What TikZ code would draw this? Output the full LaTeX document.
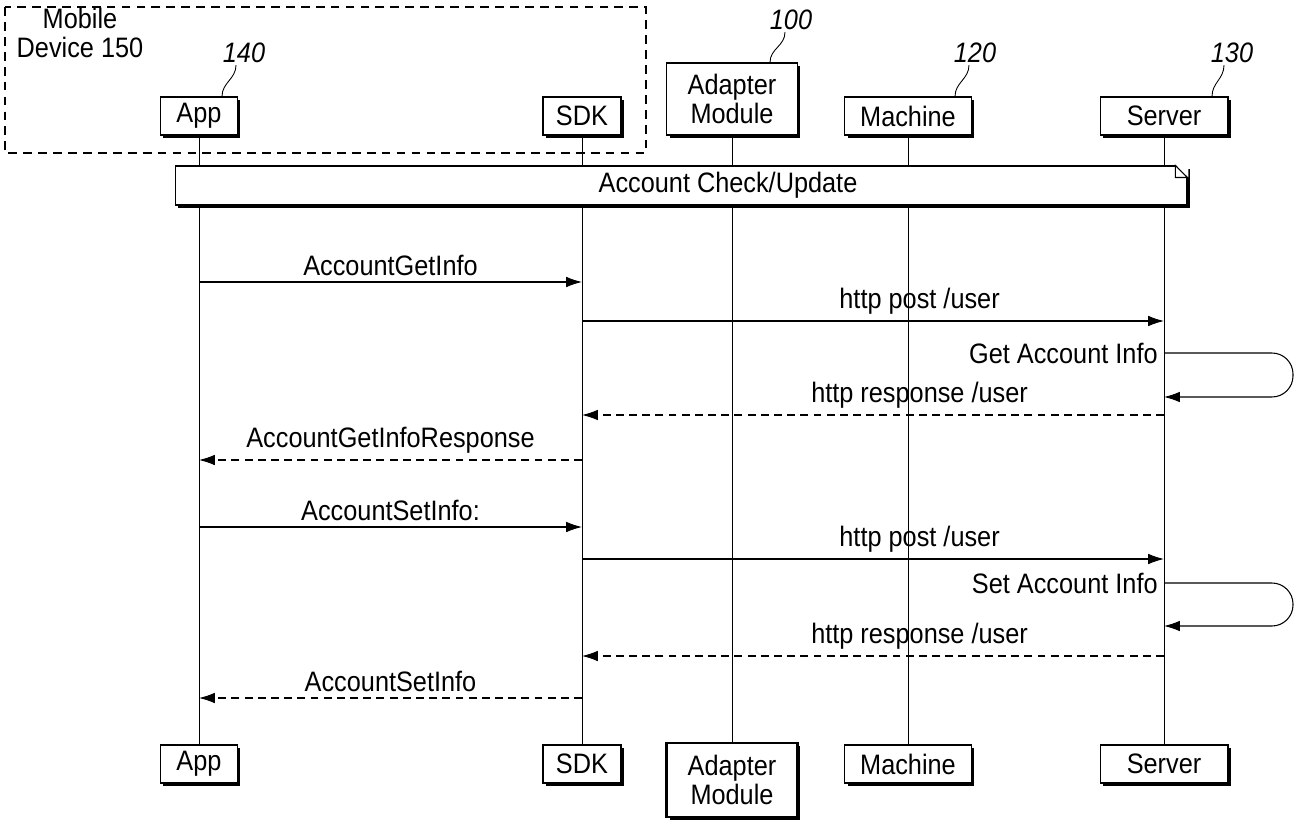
\documentclass[tikz,border=0pt]{standalone}
\usepackage{fontspec}
\setmainfont{Liberation Sans}[FakeStretch=0.9]
\usetikzlibrary{arrows.meta,shadows}

\begin{document}
\begin{tikzpicture}[x=0.02cm,y=-0.02cm,
        font=\fontsize{16}{17}\selectfont,
        box/.style={draw,fill=white,line width=0.6pt,inner sep=2pt,minimum height=0.76cm,
            drop shadow={shadow xshift=1.7pt,shadow yshift=-1.7pt,fill=black,opacity=1}},
        life/.style={line width=0.5pt},
        msg/.style={line width=0.6pt,-{Latex[length=9pt,width=6pt]}},
        reply/.style={msg,dash pattern=on 4.5pt off 3pt},
        ref/.style={inner sep=1pt,font=\fontsize{16}{17}\selectfont\itshape}]
            \useasboundingbox (0,0) rectangle (1297,827);
            % mobile device frame
            \draw[line width=0.8pt,dash pattern=on 5pt off 3.5pt] (5,7) rectangle (646,153);
            \node[align=center,font=\fontsize{16}{16}\selectfont] (dev) at (80,33) {Mobile\\Device 150};
            % heads
            \node[box,minimum width=1.54cm] (app_t) at (199,116) {App};
            \node[box,minimum width=1.56cm] (sdk_t) at (582,116) {SDK};
            \node[box,minimum width=2.62cm,minimum height=1.44cm,align=center] (ada_t) at (732,99) {Adapter\\Module};
            \node[box,minimum width=2.54cm] (mch_t) at (908,116) {Machine};
            \node[box,minimum width=2.56cm] (srv_t) at (1164,116) {Server};
            % feet
            \node[box,minimum width=1.54cm] (app_b) at (199,764) {App};
            \node[box,minimum width=1.56cm] (sdk_b) at (582,764) {SDK};
            \node[box,minimum width=2.62cm,minimum height=1.48cm,align=center,line width=1.6pt] (ada_b) at (732,780) {Adapter\\Module};
            \node[box,minimum width=2.54cm] (mch_b) at (908,764) {Machine};
            \node[box,minimum width=2.56cm] (srv_b) at (1164,764) {Server};
            % reference numerals
            \node[ref] (n140) at (244,53) {140};
            \node[ref] (n100) at (791,20) {100};
            \node[ref] (n120) at (975,53) {120};
            \node[ref] (n130) at (1232,53) {130};
            \draw[life] ([shift={(-8,0)}]n140.south) .. controls +(0,14) and +(0,-14) .. ([shift={(23,0)}]app_t.north);
            \draw[life] ([shift={(-6,0)}]n100.south) .. controls +(0,14) and +(0,-14) .. ([shift={(38,0)}]ada_t.north);
            \draw[life] ([shift={(-6,0)}]n120.south) .. controls +(0,14) and +(0,-14) .. ([shift={(47,0)}]mch_t.north);
            \draw[life] ([shift={(-8,0)}]n130.south) .. controls +(0,14) and +(0,-14) .. ([shift={(48,0)}]srv_t.north);
            % lifelines
            \foreach \a in {app,sdk,ada,mch,srv}
                \draw[life] (\a_t) -- (\a_b);
            % account check frame
            \node[box,minimum width=20.24cm,minimum height=0.78cm] (chk) at (681,185.5) {};
            \node (chk_txt) at ([shift={(47,0)}]chk.center) {Account Check/Update};
            \fill[white] ([shift={(-12,-1)}]chk.north east) -- ([shift={(1,-1)}]chk.north east) -- ([shift={(1,12)}]chk.north east) -- cycle;
            \draw[line width=0.6pt] ([shift={(-12,0)}]chk.north east) -- ([shift={(-12,12)}]chk.north east)
                -- ([shift={(0,12)}]chk.north east) -- cycle;
            % message rows
            \foreach \n/\y in {1/282,2/321,3/353,4/397,5/415,6/460,7/527,8/559,9/583,10/626,11/656,12/698}
                \coordinate (r\n) at (0,\y);
            \draw[msg] (app_t |- r1) -- node[above] {AccountGetInfo} (sdk_t |- r1);
            \draw[msg] (sdk_t |- r2) -- node[above,pos=.58] {http post /user} (srv_t |- r2);
            \draw[msg,rounded corners=12pt] (srv_t |- r3) node[anchor=east] {Get Account Info}
                -- ++(129,0) -- ++(0,44) -- (srv_t |- r4);
            \draw[reply] (srv_t |- r5) -- node[above,pos=.42] {http response /user} (sdk_t |- r5);
            \draw[reply] (sdk_t |- r6) -- node[above] {AccountGetInfoResponse} (app_t |- r6);
            \draw[msg] (app_t |- r7) -- node[above] {AccountSetInfo:} (sdk_t |- r7);
            \draw[msg] (sdk_t |- r8) -- node[above,pos=.58] {http post /user} (srv_t |- r8);
            \draw[msg,rounded corners=12pt] (srv_t |- r9) node[anchor=east] {Set Account Info}
                -- ++(129,0) -- ++(0,43) -- (srv_t |- r10);
            \draw[reply] (srv_t |- r11) -- node[above,pos=.42] {http response /user} (sdk_t |- r11);
            \draw[reply] (sdk_t |- r12) -- node[above] {AccountSetInfo} (app_t |- r12);
        \end{tikzpicture}
\end{document}
